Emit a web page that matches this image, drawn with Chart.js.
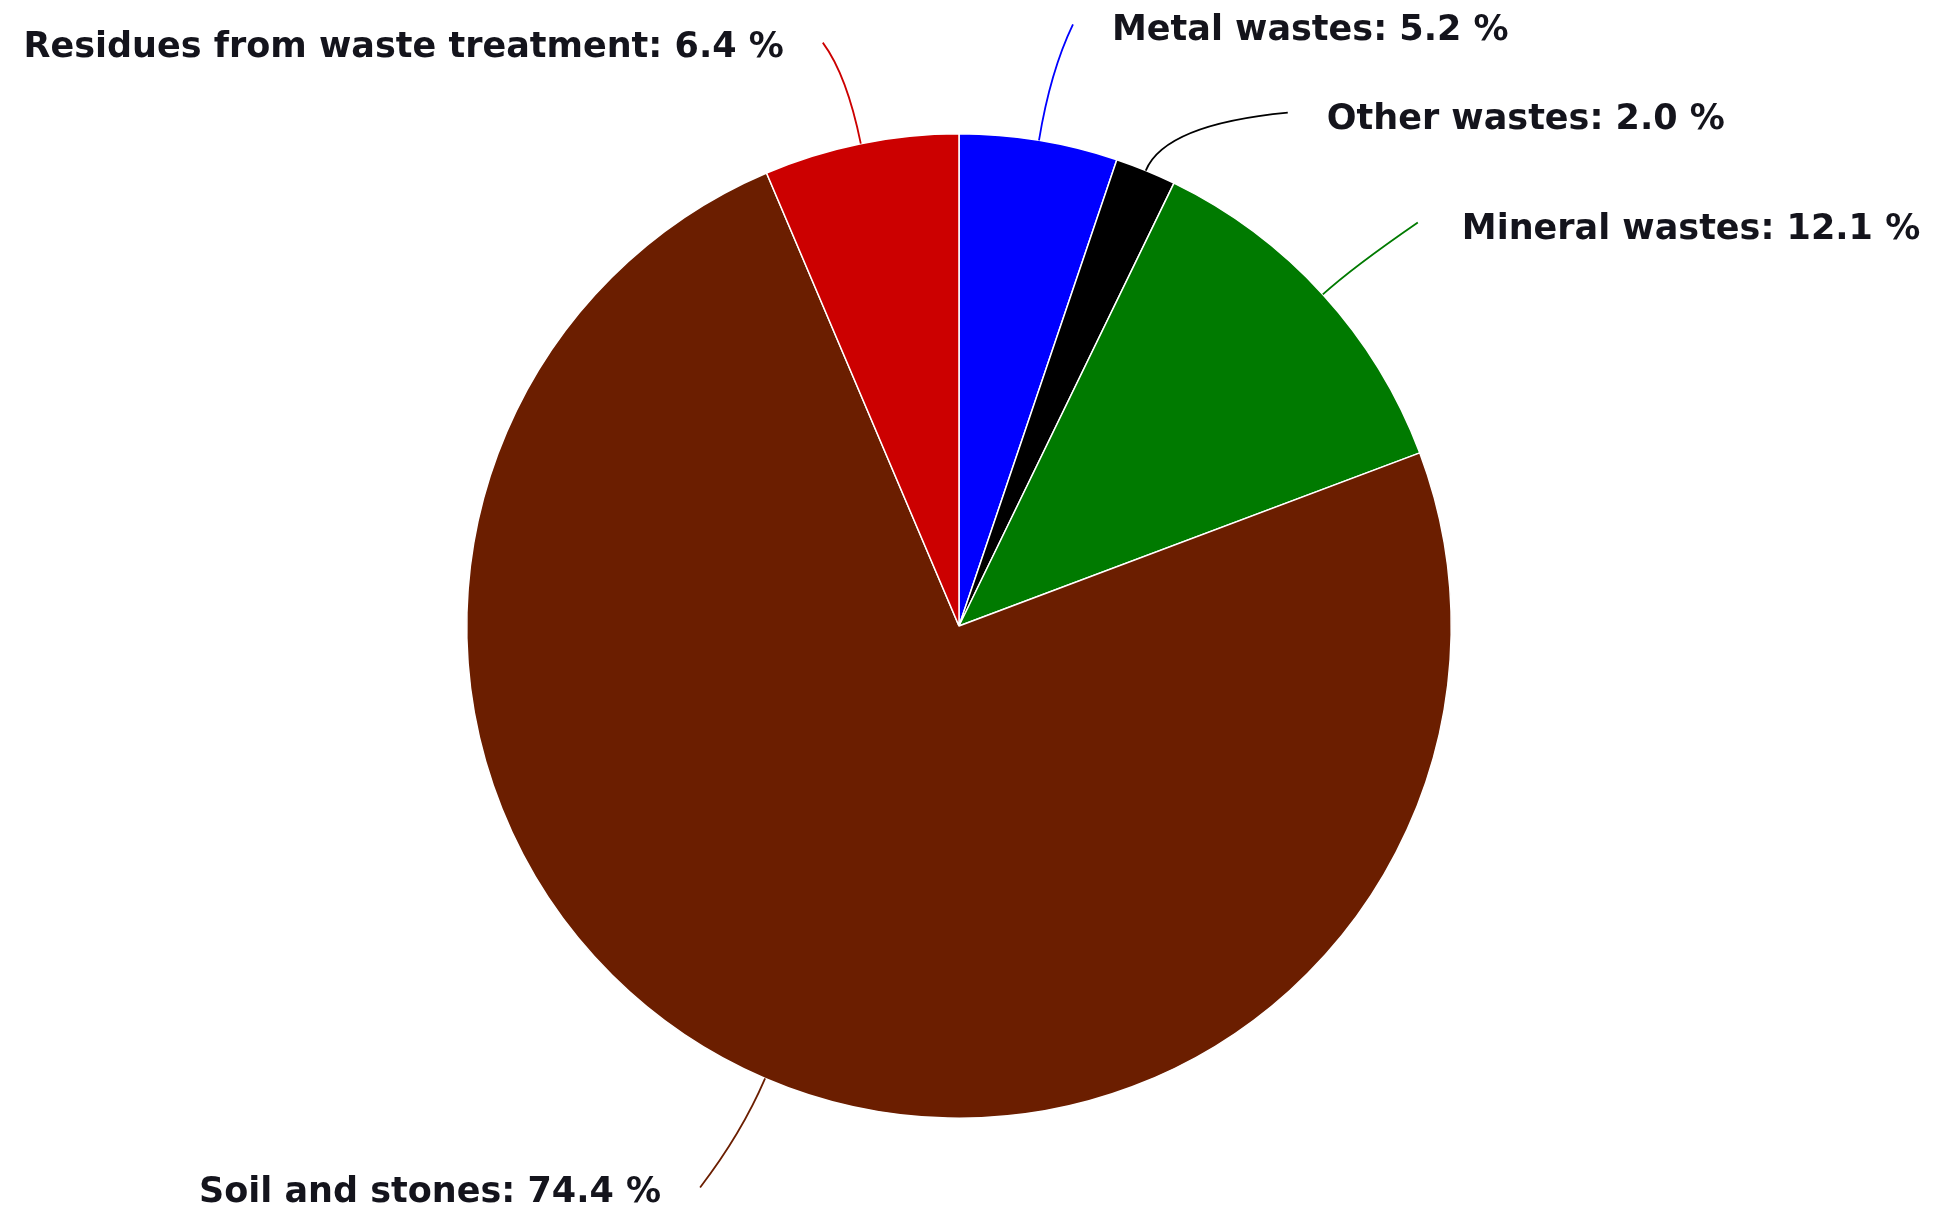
<!DOCTYPE html>
<html>
<head>
<meta charset="utf-8">
<title>Waste composition</title>
<script src="https://cdn.jsdelivr.net/npm/chart.js@4"></script>
<style>
   html, body { margin: 0; padding: 0; background: #ffffff; }
   #wrap { width: 1935px; height: 1214px; }
</style>
</head>
<body>
<div id="wrap"><canvas id="wasteChart" width="1935" height="1214"></canvas></div>
<script>
//1) DATA//
var categories = ['Metal wastes', 'Other wastes', 'Mineral wastes', 'Soil and stones', 'Residues from waste treatment']
var shares = [5.2, 2.0, 12.1, 74.4, 6.4]
var sliceColors = ['#0000ff', '#000000', '#007a00', '#6b1e00', '#cc0000']

//2) LABEL LAYOUT (offset of the line end from the slice edge, radial reach of the bend, text side)//
var labelOffsets = [[34, -116], [142, -58], [95, -72], [-65, 109], [-38, -101]]
var bendReach = [70, 50, 40, 60, 70]
var textSide = ['right', 'right', 'right', 'left', 'left']
var textGap = [39, 39, 44, 39, 39]

//3) LEADER LINE + LABEL PLUGIN//
const leaderLabels = {
   id: 'leaderLabels',
   afterDatasetsDraw(chart) {
      const ctx = chart.ctx;
      const arcs = chart.getDatasetMeta(0).data;
      ctx.save();
      ctx.font = 'bold 35px "DejaVu Sans", sans-serif';
      ctx.textBaseline = 'middle';
      arcs.forEach((arc, i) => {
         const p = arc.getProps(['x', 'y', 'startAngle', 'endAngle', 'outerRadius'], true);
         const mid = (p.startAngle + p.endAngle) / 2;
         const dx = Math.cos(mid), dy = Math.sin(mid);
         const sx = p.x + dx * p.outerRadius, sy = p.y + dy * p.outerRadius;
         const cx = sx + dx * bendReach[i], cy = sy + dy * bendReach[i];
         const ex = sx + labelOffsets[i][0], ey = sy + labelOffsets[i][1];

         ctx.strokeStyle = sliceColors[i];
         ctx.lineWidth = 1.8;
         ctx.beginPath();
         ctx.moveTo(sx, sy);
         ctx.quadraticCurveTo(cx, cy, ex, ey);
         ctx.stroke();

         const text = `${categories[i]}: ${shares[i].toFixed(1)} %`;
         ctx.fillStyle = '#14141c';
         if (textSide[i] === 'right') {
            ctx.textAlign = 'left';
            ctx.fillText(text, ex + textGap[i], ey + 7);
         } else {
            ctx.textAlign = 'right';
            ctx.fillText(text, ex - textGap[i], ey + 5);
         }
      });
      ctx.restore();
   }
};

//4) CHART//
const ctx_waste = document.getElementById('wasteChart').getContext('2d');
const wasteChart = new Chart(ctx_waste, {
   type: 'pie',
   data: {
      labels: categories,
      datasets: [{
         data: shares,
         backgroundColor: sliceColors,
         borderColor: '#ffffff',
         borderWidth: 1.5
      }]
   },
   options: {
      responsive: false,
      animation: false,
      layout: {
         padding: { top: 133, bottom: 95, left: 0, right: 17 }
      },
      plugins: {
         legend: { display: false },
         tooltip: { enabled: false }
      }
   },
   plugins: [leaderLabels]
});
</script>
</body>
</html>
